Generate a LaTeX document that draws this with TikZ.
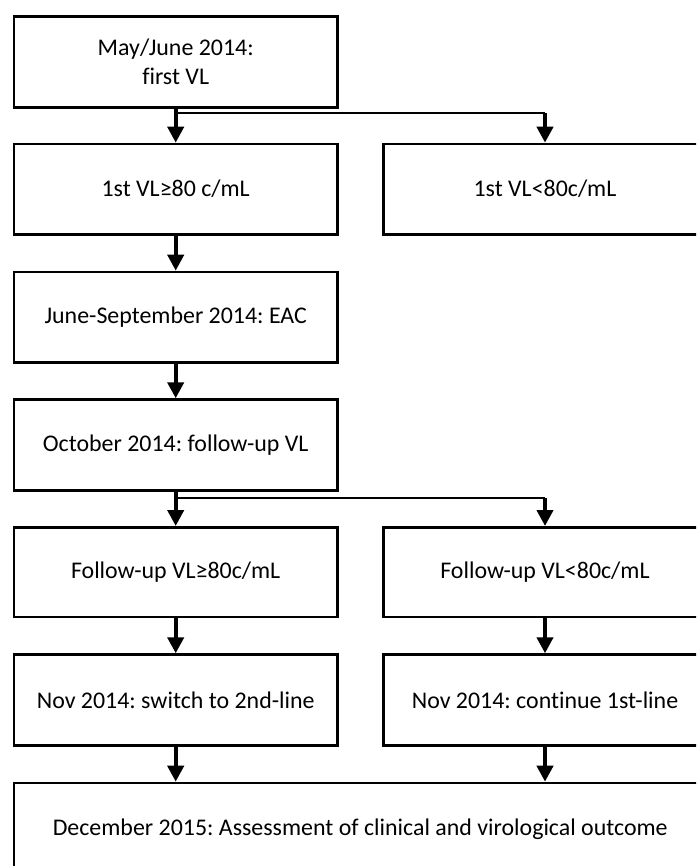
\documentclass[tikz,border=0pt]{standalone}
\usepackage{fontspec}
\setmainfont{Carlito}[RawFeature={-liga}]
\usetikzlibrary{arrows.meta}
\begin{document}
\frenchspacing
\begin{tikzpicture}[x=1pt,y=-1pt,
  box/.style={draw=black, line width=2.7pt, rectangle, inner sep=0pt, anchor=north west, align=center,
    font=\fontsize{23.9}{28.5}\selectfont\frenchspacing},
  lbox/.style={box, minimum width=323.3pt},
  rbox/.style={box, minimum width=322.7pt},
  arr/.style={line width=4pt, -{Triangle[width=16pt,length=16pt]}},
  branch/.style={line width=2.4pt},
]
\useasboundingbox (0,0) rectangle (696,866);
\clip (0,0) rectangle (696,866);
\fill[white] (0,0) rectangle (696,866);

\node[lbox, minimum height=91pt] (b1) at (12.7,15) {May/June 2014:\\first VL};
\node[lbox, minimum height=90.3pt] (b2) at (12.7,142.7) {1st VL≥80 c/mL};
\node[rbox, minimum height=90.3pt] (b3) at (382.3,142.7) {1st VL<80c/mL};
\node[lbox, minimum height=90.3pt] (b4) at (12.7,270.7) {June-September 2014: EAC};
\node[lbox, minimum height=90.7pt] (b5) at (12.7,398.3) {October 2014: follow-up VL};
\node[lbox, minimum height=89.7pt] (b6) at (12.7,526) {Follow-up VL≥80c/mL};
\node[rbox, minimum height=89.7pt] (b7) at (382.3,526) {Follow-up VL<80c/mL};
\node[lbox, minimum height=91pt] (b8) at (12.7,653.3) {Nov 2014: switch to 2nd-line};
\node[rbox, minimum height=91pt] (b9) at (382.3,653.3) {Nov 2014: continue 1st-line};
\node[box, minimum width=692.3pt, minimum height=92.6pt] (b10) at (12.7,781.7) {December 2015: Assessment of clinical and virological outcome};

\coordinate (j1) at (b1.south |- 0,113);
\coordinate (j2) at (b5.south |- 0,497.7);

\draw[arr] (b1.south) -- (b2.north);
\draw[branch] (j1) -- (j1 -| b3.north);
\draw[arr] (j1 -| b3.north) -- (b3.north);
\draw[arr] (b2.south) -- (b4.north);
\draw[arr] (b4.south) -- (b5.north);
\draw[arr] (b5.south) -- (b6.north);
\draw[branch] (j2) -- (j2 -| b7.north);
\draw[arr] (j2 -| b7.north) -- (b7.north);
\draw[arr] (b6.south) -- (b8.north);
\draw[arr] (b7.south) -- (b9.north);
\draw[arr] (b8.south) -- (b8.south |- b10.north);
\draw[arr] (b9.south) -- (b9.south |- b10.north);
\end{tikzpicture}
\end{document}
